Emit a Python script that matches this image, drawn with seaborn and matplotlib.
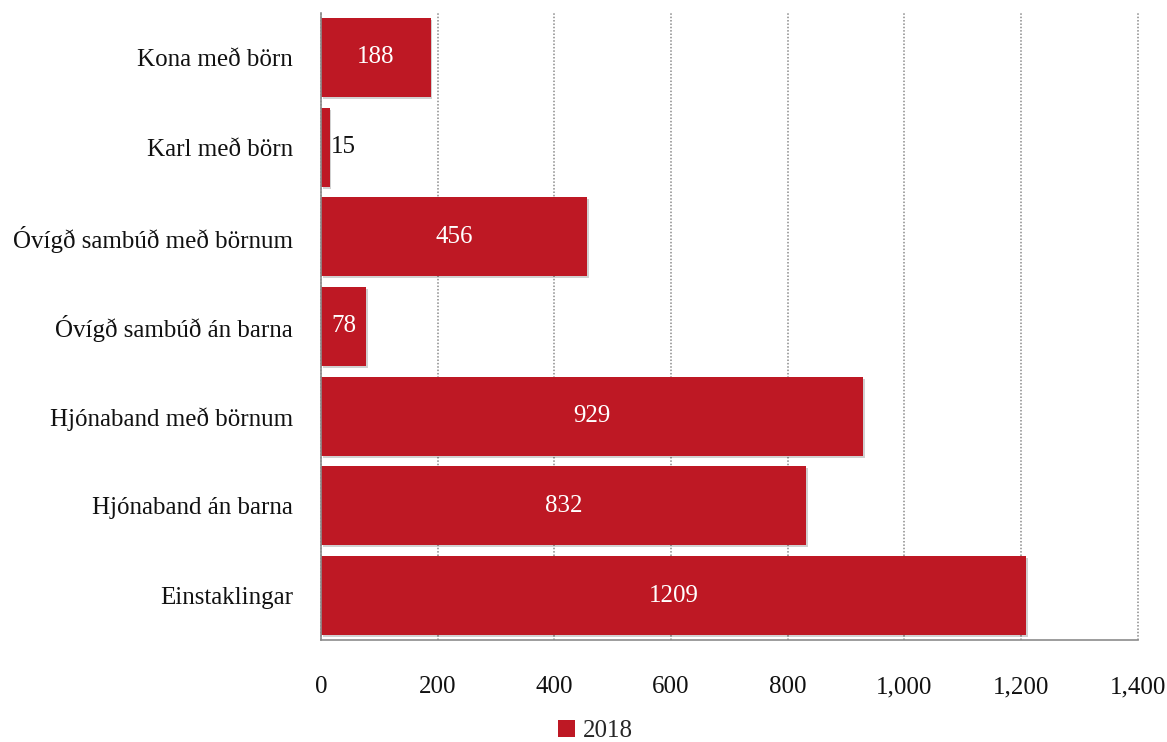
import matplotlib
matplotlib.use("Agg")
import matplotlib.pyplot as plt
import matplotlib.patheffects as pe
import seaborn as sns
import pandas as pd
from matplotlib.ticker import FuncFormatter, MultipleLocator
from matplotlib.patches import Patch

categories = [
    "Kona með börn",
    "Karl með börn",
    "Óvígð sambúð með börnum",
    "Óvígð sambúð án barna",
    "Hjónaband með börnum",
    "Hjónaband án barna",
    "Einstaklingar",
]
values_2018 = [188, 15, 456, 78, 929, 832, 1209]
series_name = "2018"

df = pd.DataFrame({"category": categories, "value": values_2018})

sns.set_theme(style="white")
plt.rcParams["font.family"] = ["Liberation Serif", "DejaVu Serif"]

red = "#BE1824"
fs = 18
fig = plt.figure(figsize=(11.67, 7.42), dpi=100)
ax = fig.add_axes([0.275, 0.137, 0.7, 0.846])

sns.barplot(data=df, y="category", x="value", orient="h", color=red,
            saturation=1, width=0.88, ax=ax, zorder=3)

shadow = [pe.SimplePatchShadow(offset=(1.2, -1.5), shadow_rgbFace="#000000", alpha=0.18),
          pe.Normal()]
for p in ax.patches:
    p.set_path_effects(shadow)
    p.set_linewidth(0)

ax.set_xlim(0, 1400)
ax.set_ylim(len(categories) - 0.5, -0.5)
ax.xaxis.set_major_locator(MultipleLocator(200))
ax.xaxis.set_major_formatter(FuncFormatter(lambda v, _: f"{int(v):,}"))
ax.grid(axis="x", color="#8a8a8a", linestyle=(0, (1, 1.2)), linewidth=1.1, zorder=0)
ax.grid(axis="y", visible=False)
for gl in ax.get_xgridlines():
    gl.set_clip_on(False)
ax.set_xlabel("")
ax.set_ylabel("")

for s in ["top", "right"]:
    ax.spines[s].set_visible(False)
for s in ["left", "bottom"]:
    ax.spines[s].set_color("#8c8c8c")
    ax.spines[s].set_linewidth(1.2)
    ax.spines[s].set_zorder(4)

ax.tick_params(axis="x", length=3, color="#8c8c8c", direction="in", pad=26,
               labelsize=fs, labelcolor="#111111")
ax.tick_params(axis="y", length=0, pad=20, labelsize=fs, labelcolor="#111111")

for i, v in enumerate(values_2018):
    if v < 40:
        ax.text(v + 2, i, f"{v}", ha="left", va="center", fontsize=fs,
                color="#111111", zorder=5)
    else:
        ax.text(v / 2, i, f"{v}", ha="center", va="center", fontsize=fs,
                color="white", zorder=5)

handle = Patch(facecolor=red, edgecolor="none")
fig.legend([handle], [series_name], loc="center", bbox_to_anchor=(0.51, 0.015),
           frameon=False, fontsize=fs, handlelength=0.7, handleheight=0.7,
           handletextpad=0.3)

fig.savefig("out.png", dpi=100)
